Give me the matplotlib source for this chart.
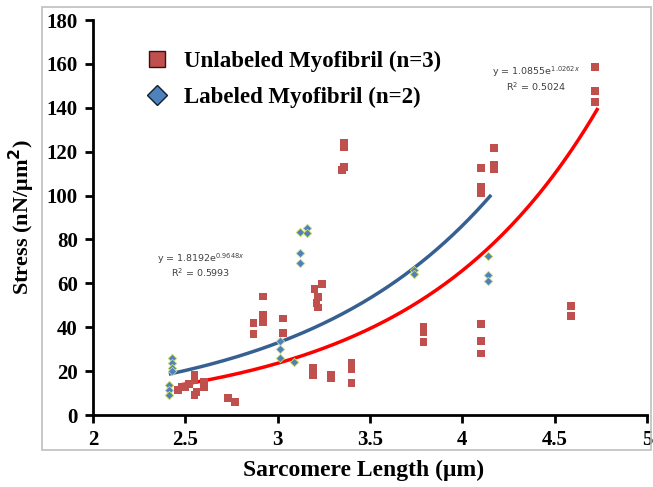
import matplotlib
matplotlib.use('Agg')
import matplotlib.pyplot as plt
from matplotlib.lines import Line2D
from matplotlib.patches import Rectangle
import numpy as np

# --- data ---
unl_x = [2.46, 2.48, 2.50, 2.52, 2.55, 2.55, 2.55, 2.56, 2.60, 2.60,
         2.73, 2.77, 2.87, 2.87, 2.92, 2.92, 2.92, 3.03, 3.03,
         3.20, 3.24, 3.22, 3.21, 3.22, 3.19, 3.19, 3.29, 3.29,
         3.40, 3.40, 3.40, 3.36, 3.36, 3.35, 3.36,
         3.79, 3.79, 3.79, 4.10, 4.10, 4.10, 4.10, 4.10, 4.10,
         4.17, 4.17, 4.17, 4.59, 4.59, 4.72, 4.72, 4.72]
unl_y = [11.4, 13.0, 12.5, 14.0, 18.2, 16.0, 9.1, 10.5, 12.8, 15.0,
         7.7, 6.0, 42.0, 37.0, 54.0, 45.6, 42.4, 44.0, 37.5,
         57.4, 59.7, 53.8, 51.0, 49.0, 21.4, 18.2, 18.2, 16.9,
         23.7, 21.0, 14.6, 124.0, 122.0, 111.7, 113.0,
         40.0, 37.8, 33.3, 41.5, 33.7, 28.0, 112.6, 104.0, 101.0,
         121.7, 114.0, 112.0, 49.7, 45.0, 158.6, 147.7, 142.6]

lab_x = [2.43, 2.43, 2.43, 2.43, 2.41, 2.41, 2.41,
         3.01, 3.01, 3.01, 3.09, 3.12, 3.16, 3.16, 3.12, 3.12,
         3.74, 3.74, 4.14, 4.14, 4.14]
lab_y = [26.0, 23.7, 21.4, 20.0, 13.7, 11.4, 9.0,
         33.7, 30.0, 26.0, 24.2, 83.4, 85.2, 83.0, 73.8, 69.3,
         66.0, 64.3, 72.5, 63.8, 61.0]

# exponential trendlines as printed on the chart
unl_fit = (1.0855, 1.0262, 0.5024)
lab_fit = (1.8192, 0.9648, 0.5993)

xticks = [2, 2.5, 3, 3.5, 4, 4.5, 5]
xticklabels = ['2', '2.5', '3', '3.5', '4', '4.5', '5']
yticks = list(range(0, 181, 20))

red = '#c0504d'
blue = '#4f81bd'
serif = 'Liberation Serif'

fig = plt.figure(figsize=(6.53, 4.87), dpi=100)
# light gray frame around the chart area
fig.patches.append(Rectangle((0.0643, 0.076), 0.933, 0.9096, transform=fig.transFigure,
                             fill=False, edgecolor='#bfbfbf', lw=1.2))
ax = fig.add_axes([0.1424, 0.1478, 0.8484, 0.8111])

ax.scatter(unl_x, unl_y, marker='s', s=30, c=red, edgecolors='none', zorder=3)
ax.scatter(lab_x, lab_y, marker='D', s=18, c=blue, edgecolors='#c9d86a', linewidths=0.6, zorder=4)

xs = np.linspace(2.48, 4.73, 200)
ax.plot(xs, unl_fit[0]*np.exp(unl_fit[1]*xs), color='#ff0000', lw=2.5, zorder=2)
xs2 = np.linspace(2.42, 4.15, 200)
ax.plot(xs2, lab_fit[0]*np.exp(lab_fit[1]*xs2), color='#376092', lw=2.5, zorder=2)

ann_kw = dict(fontsize=6.8, color='#404040', family='DejaVu Sans', ha='center')
ax.text(2.585, 70, 'y = %.4fe$^{%.4fx}$' % lab_fit[:2], **ann_kw)
ax.text(2.585, 63, 'R$^2$ = %.4f' % lab_fit[2], **ann_kw)
ax.text(4.40, 155, 'y = %.4fe$^{%.4fx}$' % unl_fit[:2], **ann_kw)
ax.text(4.40, 147.5, 'R$^2$ = %.4f' % unl_fit[2], **ann_kw)

ax.set_xlim(2, 5)
ax.set_ylim(0, 180)
ax.set_xticks(xticks)
ax.set_xticklabels(xticklabels)
ax.set_yticks(yticks)
for sp in ['top', 'right']:
    ax.spines[sp].set_visible(False)
for sp in ['left', 'bottom']:
    ax.spines[sp].set_linewidth(2)
ax.tick_params(direction='out', length=6, width=2, labelsize=15, pad=5)
for lbl in ax.get_xticklabels() + ax.get_yticklabels():
    lbl.set_family(serif)
    lbl.set_fontweight('bold')

ax.set_xlabel('Sarcomere Length (\u03bcm)', fontsize=17, fontweight='bold', family=serif)
ax.set_ylabel('Stress (nN/\u03bcm$^\\mathbf{2}$)', fontsize=16, fontweight='bold', family=serif)
ax.xaxis.set_label_coords(0.488, -0.114)
ax.yaxis.set_label_coords(-0.101, 0.5)

handles = [Line2D([], [], ls='none', marker='s', ms=11, mfc=red, mec='#3a1010', mew=1),
           Line2D([], [], ls='none', marker='D', ms=10.5, mfc=blue, mec='#10202e', mew=1)]
ax.legend(handles, ['Unlabeled Myofibril (n=3)', 'Labeled Myofibril (n=2)'],
          loc='upper left', bbox_to_anchor=(0.053, 0.975), frameon=False,
          prop={'family': serif, 'weight': 'bold', 'size': 16.5},
          handletextpad=0.6, labelspacing=0.65, handlelength=1.2)

plt.savefig('out.png', dpi=100)
